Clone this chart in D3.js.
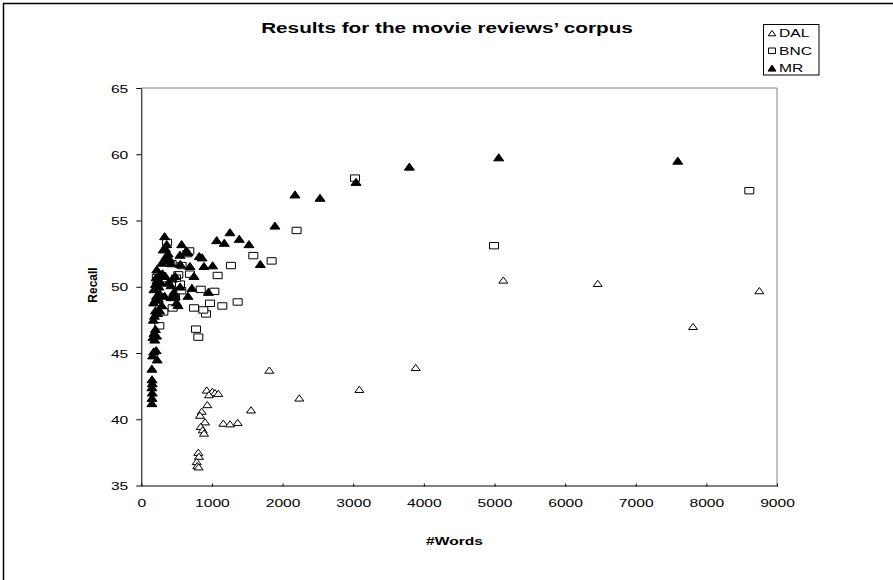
<!DOCTYPE html>
<html>
<head>
<meta charset="utf-8">
<script src="https://cdn.jsdelivr.net/npm/d3@7"></script>
<style>
  body { margin: 0; background: #fff; }
  svg { display: block; }
  text { font-family: "Liberation Sans", Arial, Helvetica, sans-serif; fill: #000; }
</style>
</head>
<body>
<svg id="chart" width="893" height="580"></svg>
<script>
// Recall against vocabulary size (#Words) for three lexicons.
const dalWords  = [926, 1006, 1043, 1090, 958, 935, 855, 831, 902, 841, 869, 888, 1161, 1256, 1365, 1553, 1812,
                   807, 817, 784, 793, 812, 2237, 3087, 3885, 5125, 6462, 7811, 8750];
const dalRecall = [42.2, 42.1, 42.0, 41.95, 41.85, 41.1, 40.6, 40.3, 39.8, 39.45, 39.2, 38.95, 39.7, 39.65, 39.75, 40.7, 43.7,
                   37.5, 37.2, 36.8, 36.5, 36.4, 41.6, 42.25, 43.9, 50.5, 50.25, 47.0, 49.7];

const bncWords  = [3026, 4994, 8608, 2199, 1586, 1845, 1269, 1081, 1364, 1147, 1034, 972, 916, 878, 841, 746, 774, 807,
                   689, 651, 571, 548, 524, 429, 363, 491, 566, 477, 444, 312, 255, 241, 311, 680, 220];
const bncRecall = [58.2, 53.1, 57.25, 54.25, 52.35, 51.95, 51.6, 50.85, 48.85, 48.55, 49.65, 48.75, 47.95, 48.25, 49.8, 48.4, 46.8, 46.2,
                   50.95, 52.5, 51.6, 50.2, 50.9, 51.75, 53.35, 50.65, 49.7, 49.2, 48.4, 48.1, 47.05, 50.9, 50.6, 52.7, 50.7];

const mrWords  = [150, 152, 155, 150, 155, 152, 150, 160, 175, 210, 225, 165, 180, 200, 215, 190, 170, 185, 200, 230,
                  175, 195, 215, 240, 260, 180, 200, 225, 250, 280, 210, 260, 300, 340, 220, 290, 320, 350, 310, 340,
                  380, 400, 420, 330, 360, 380, 420, 460, 480, 500, 520, 550, 440, 480, 420, 330, 290, 260,
                  571, 637, 547, 660, 689, 552, 746, 717, 661, 821, 860, 887, 1010, 949, 1067, 1175, 1255, 1387,
                  1524, 1685, 1892, 2176, 2530, 3040, 3795, 5060, 7595];
const mrRecall = [41.2, 41.6, 42.0, 42.4, 42.7, 43.0, 43.8, 44.8, 45.1, 45.2, 44.5, 46.2, 46.5, 46.8, 46.3, 46.0, 47.5, 47.8, 48.2, 48.0,
                  48.8, 49.0, 49.3, 49.1, 49.5, 49.8, 50.2, 50.5, 50.0, 50.3, 50.7, 50.9, 51.0, 50.8, 51.3, 51.8, 52.0, 52.3, 52.8, 52.9,
                  52.5, 52.1, 51.8, 53.8, 53.2, 50.3, 50.1, 49.6, 49.3, 48.8, 48.6, 50.0, 50.6, 50.8, 49.2, 49.3, 48.6, 48.2,
                  53.2, 52.7, 52.4, 52.6, 51.55, 51.7, 50.8, 49.9, 49.3, 52.3, 52.2, 51.55, 51.6, 49.6, 53.5, 53.3, 54.1, 53.6,
                  53.2, 51.7, 54.6, 56.95, 56.7, 57.9, 59.05, 59.75, 59.5];

const xTicks = [0, 1000, 2000, 3000, 4000, 5000, 6000, 7000, 8000, 9000];
const yTicks = [35, 40, 45, 50, 55, 60, 65];
const seriesNames = ["DAL", "BNC", "MR"];

const SX = 1.42; // horizontal stretch of the lettering

const svg = d3.select("#chart");
const x = d3.scaleLinear().domain([0, 9000]).range([141.3, 777]);
const y = d3.scaleLinear().domain([35, 65]).range([485.5, 88]);

// outer chart frame
svg.append("rect").attr("x", 3.5).attr("y", 3.5).attr("width", 1000).attr("height", 1000)
  .attr("fill", "none").attr("stroke", "#000").attr("stroke-width", 1.5);

// plot-area border (top and right)
svg.append("path")
  .attr("d", `M${x(0)},${y(65)}H${x(9000)}V${y(35)}`)
  .attr("fill", "none").attr("stroke", "#808080").attr("stroke-width", 1);

function stretched(sel, sx = SX) {
  return sel.attr("transform", function () {
    const t = d3.select(this).attr("data-t") || "";
    return `${t} scale(${sx},1)`;
  });
}

// x axis
const gx = svg.append("g").attr("transform", `translate(0,${y(35)})`)
  .call(d3.axisBottom(x).tickValues(xTicks).tickFormat(d3.format("d")).tickSizeOuter(0).tickSizeInner(2).tickPadding(0));
gx.select(".domain").attr("stroke", "#000");
gx.selectAll(".tick line").attr("y1", -2).attr("y2", 1).attr("stroke", "#000");
gx.selectAll(".tick text").attr("y", 0).attr("dy", null).attr("font-size", 11)
  .attr("data-t", "translate(0,21.5)").call(stretched);

// y axis
const gy = svg.append("g").attr("transform", `translate(${x(0)},0)`)
  .call(d3.axisLeft(y).tickValues(yTicks).tickSizeOuter(0).tickSizeInner(5).tickPadding(0));
gy.select(".domain").attr("stroke", "#000");
gy.selectAll(".tick line").attr("stroke", "#000");
gy.selectAll(".tick text").attr("x", 0).attr("dy", null).attr("font-size", 11)
  .attr("data-t", "translate(-13,4)").call(stretched);

// titles
svg.append("text").attr("text-anchor", "middle").attr("font-size", 14).attr("font-weight", "bold")
  .attr("data-t", "translate(447,33)").text("Results for the movie reviews\u2019 corpus").call(stretched, 1.48);
svg.append("text").attr("text-anchor", "middle").attr("font-size", 11).attr("font-weight", "bold")
  .attr("data-t", "translate(454.5,545)").text("#Words").call(stretched);
svg.append("text").attr("text-anchor", "middle").attr("font-size", 12).attr("font-weight", "bold")
  .attr("transform", "translate(96.5,285) rotate(-90)").text("Recall");

// marker shapes
const triOpen = "M0,-3.2L4.5,3L-4.5,3Z";
const triFill = "M0,-3.8L5,3.3L-5,3.3Z";
const sq = "M-4.5,-3.2H4.5V3.2H-4.5Z";

function plot(words, recall, shape, fill) {
  svg.append("g").selectAll("path")
    .data(words.map((w, i) => [w, recall[i]]))
    .join("path")
    .attr("transform", d => `translate(${x(d[0])},${y(d[1])})`)
    .attr("d", shape)
    .attr("fill", fill ? "#000" : "#fff")
    .attr("stroke", "#000").attr("stroke-width", 1);
}
plot(dalWords, dalRecall, triOpen, false);
plot(bncWords, bncRecall, sq, false);
plot(mrWords, mrRecall, triFill, true);

// legend
const lg = svg.append("g");
lg.append("rect").attr("x", 763.5).attr("y", 24.5).attr("width", 55.5).attr("height", 50.5)
  .attr("fill", "#fff").attr("stroke", "#000").attr("stroke-width", 1);
const legendShapes = ["M0,-2.8L3.8,2.5L-3.8,2.5Z", "M-3.5,-2.8H3.5V2.8H-3.5Z", "M0,-3.2L4,2.8L-4,2.8Z"];
seriesNames.forEach((name, i) => {
  const cy = 33.3 + i * 17.5;
  lg.append("path").attr("transform", `translate(772,${cy})`).attr("d", legendShapes[i])
    .attr("fill", i === 2 ? "#000" : "#fff").attr("stroke", "#000").attr("stroke-width", 1);
  lg.append("text").attr("font-size", 11).attr("data-t", `translate(779,${cy + 4})`).text(name).call(stretched);
});
</script>
</body>
</html>
